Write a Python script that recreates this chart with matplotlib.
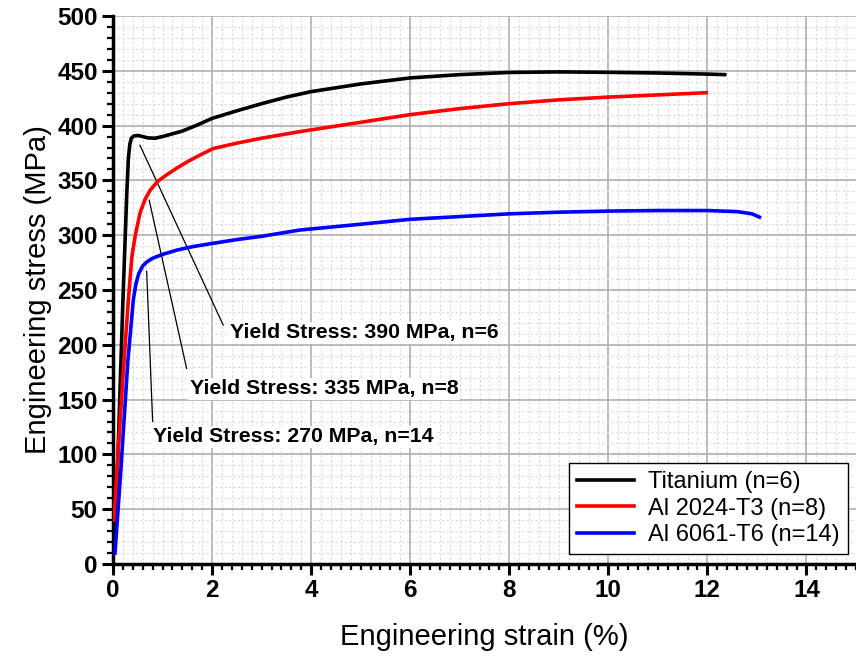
import matplotlib
matplotlib.use("Agg")
import matplotlib.pyplot as plt
from matplotlib.ticker import MultipleLocator

plt.rcParams['font.family'] = ['Liberation Sans', 'DejaVu Sans']

# Titanium (n=6)
ti_strain = [0.02, 0.1, 0.2, 0.28, 0.31, 0.34, 0.37, 0.42, 0.5, 0.6, 0.7, 0.85, 1.0, 1.2,
             1.4, 1.7, 2.0, 2.5, 3.0, 3.5, 4.0, 5.0, 6.0, 7.0, 8.0, 9.0, 10.0, 11.0, 12.0, 12.35]
ti_stress = [10, 100, 240, 340, 370, 383, 388.5, 390.5, 391, 390, 388.8, 388.5, 390, 392.5,
             395, 400.5, 406.6, 413.5, 420, 426, 431, 438, 443.5, 446.5, 448.5, 449, 448.6,
             448, 447, 446.5]

# Al 2024-T3 (n=8)
al2_strain = [0.02, 0.1, 0.2, 0.31, 0.38, 0.45, 0.55, 0.65, 0.75, 0.9, 1.08, 1.3, 1.5,
              1.75, 2.02, 2.5, 3.0, 3.77, 5.0, 6.0, 7.0, 8.0, 9.0, 10.0, 11.0, 11.98]
al2_stress = [40, 100, 170, 241, 280, 300, 321, 333, 341, 349, 355, 361.5, 367,
              373, 379, 384, 388.5, 394.5, 403, 410, 415.5, 420, 423.5, 426, 428, 430]

# Al 6061-T6 (n=14)
al6_strain = [0.04, 0.15, 0.3, 0.41, 0.46, 0.52, 0.6, 0.68, 0.8, 1.0, 1.3, 1.6, 2.02,
              2.5, 3.0, 3.77, 5.0, 6.0, 7.0, 8.0, 9.0, 10.0, 11.0, 12.0, 12.6, 12.9, 13.05]
al6_stress = [10, 80, 185, 241, 255, 265, 272, 275.5, 279, 282.5, 286.5, 289.5, 292.6,
              296, 299, 304.7, 310, 314.5, 317, 319.5, 321, 322, 322.5, 322.5, 321.5,
              319.5, 316.5]

# annotations: text, point on curve, text position
ann_texts = ["Yield Stress: 390 MPa, n=6", "Yield Stress: 335 MPa, n=8", "Yield Stress: 270 MPa, n=14"]
ann_points = [(0.545, 382), (0.73, 332), (0.68, 267)]
ann_text_pos = [(2.36, 211), (1.55, 160), (0.81, 116)]
ann_line_end = [(2.225, 218), (1.486, 178.5), (0.80, 130)]

fig = plt.figure(figsize=(8.56, 6.61), dpi=100)
ax = fig.add_axes([113 / 856, 97 / 661, 1 - 113 / 856, 548 / 661])

ax.plot(ti_strain, ti_stress, color='black', lw=2.6, label='Titanium (n=6)', zorder=4)
ax.plot(al2_strain, al2_stress, color='#ff0000', lw=2.6, label='Al 2024-T3 (n=8)', zorder=4)
ax.plot(al6_strain, al6_stress, color='#0000ff', lw=2.6, label='Al 6061-T6 (n=14)', zorder=4)

for txt, p, tp, le in zip(ann_texts, ann_points, ann_text_pos, ann_line_end):
    ax.plot([p[0], le[0]], [p[1], le[1]], color='black', lw=0.9, zorder=3)
    ax.text(tp[0], tp[1], txt, fontsize=15.3, fontweight='bold', va='center', ha='left',
            bbox=dict(facecolor='white', edgecolor='none', pad=1), zorder=5)

ax.set_xlim(0, 15)
ax.set_ylim(0, 500)
ax.xaxis.set_major_locator(MultipleLocator(2))
ax.xaxis.set_minor_locator(MultipleLocator(0.2))
ax.yaxis.set_major_locator(MultipleLocator(50))
ax.yaxis.set_minor_locator(MultipleLocator(10))

ax.grid(which='major', color='#b0b0b0', lw=1.2, zorder=1)
ax.grid(which='minor', color='#dadada', lw=0.8, ls=(0, (2, 2)), zorder=0)
ax.set_axisbelow(True)

for s in ['top', 'right']:
    ax.spines[s].set_visible(False)
for s in ['left', 'bottom']:
    ax.spines[s].set_linewidth(2.5)

ax.tick_params(which='major', direction='out', length=8, width=2.2, labelsize=17.5, pad=3)
ax.tick_params(which='minor', direction='out', length=4.5, width=1.6)
for lab in ax.get_xticklabels() + ax.get_yticklabels():
    lab.set_fontweight('bold')

ax.set_xlabel('Engineering strain (%)', fontsize=21, labelpad=15)
ax.set_ylabel('Engineering stress (MPa)', fontsize=21, labelpad=4)

leg = ax.legend(loc='lower right', bbox_to_anchor=(0.989, 0.018), fontsize=17,
                fancybox=False, framealpha=1, edgecolor='black', handlelength=2.4,
                borderpad=0.35, labelspacing=0.18, handletextpad=0.6, borderaxespad=0)
leg.get_frame().set_linewidth(1.0)
leg.set_zorder(6)

fig.savefig('out.png', dpi=100)
